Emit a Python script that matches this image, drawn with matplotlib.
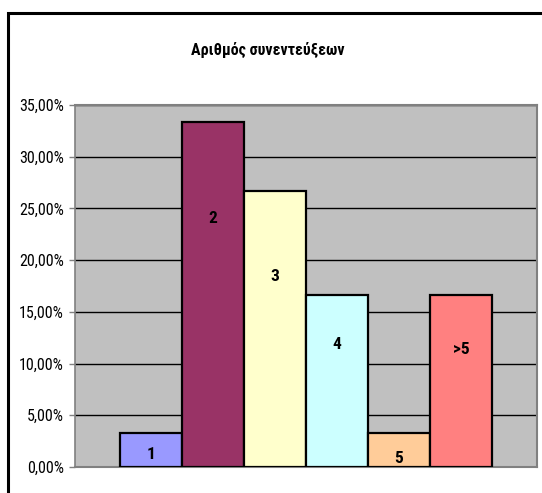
import matplotlib
matplotlib.use("Agg")
import matplotlib.pyplot as plt
from matplotlib.patches import Rectangle
from matplotlib.ticker import FuncFormatter

categories = ["1", "2", "3", "4", "5", ">5"]
values = [3.33, 33.33, 26.67, 16.67, 3.33, 16.67]
colors = ["#9999FF", "#993366", "#FFFFCC", "#CCFFFF", "#FFCC99", "#FF8080"]
label_frac = [0.35, 0.72, 0.69, 0.71, 0.26, 0.68]
yticks = [0, 5, 10, 15, 20, 25, 30, 35]
title = "Αριθμός συνεντεύξεων"

fam = ["Roboto Condensed", "Fira Sans Condensed", "DejaVu Sans"]

W, H = 542, 493
fig = plt.figure(figsize=(W / 100, H / 100), dpi=100)
fig.patch.set_facecolor("white")

# outer chart border
fig.add_artist(Rectangle((8 / W, -0.05), 1.0, 1 - 13 / H + 0.05, transform=fig.transFigure,
                         fill=False, edgecolor="black", linewidth=2.2))

ax = fig.add_axes([75 / W, 1 - 467 / H, (537 - 75) / W, (467 - 105) / H])
ax.set_facecolor("#C0C0C0")

x = list(range(len(categories)))
ax.bar(x, values, width=1.0, color=colors, edgecolor="black", linewidth=1.6, zorder=3)
for xi, v, c, f in zip(x, values, categories, label_frac):
    ax.text(xi, v * f, c, ha="center", va="center", fontsize=12.5, fontweight="bold",
            family=fam, zorder=4)

ax.set_xlim(-0.5 - 0.73, len(categories) - 0.5 + 0.73)
ax.set_ylim(0, 35)
ax.set_yticks(yticks)
ax.yaxis.set_major_formatter(FuncFormatter(lambda v, p: f"{v:.2f}%".replace(".", ",")))
ax.set_xticks([])
ax.grid(axis="y", color="black", linewidth=1.0, zorder=1)
ax.tick_params(axis="y", direction="out", length=4, width=1, color="#808080", pad=4)
for lbl in ax.get_yticklabels():
    lbl.set_family(fam)
    lbl.set_fontsize(11.5)
for s in ["top", "right"]:
    ax.spines[s].set_color("#808080")
    ax.spines[s].set_linewidth(1.5)
ax.spines["left"].set_color("#808080")
ax.spines["left"].set_linewidth(1.2)
ax.spines["bottom"].set_color("#808080")
ax.spines["bottom"].set_linewidth(1.5)

fig.text((196 + 340) / 2 / W, 1 - 50 / H, title, ha="center", va="center",
         fontsize=11.5, fontweight="bold", family=fam)

fig.savefig("out.png", dpi=100)
